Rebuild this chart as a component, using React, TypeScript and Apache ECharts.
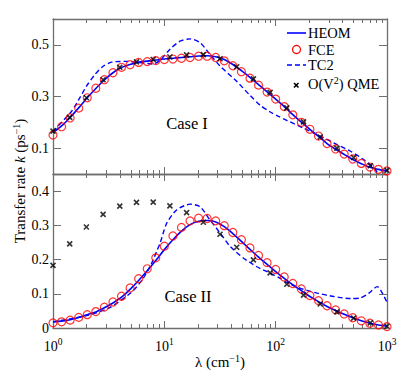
import React, { useEffect, useRef } from "react";
import * as echarts from "echarts";

// ---- data ----
const fceLambda = [
  1, 1.194, 1.425, 1.701, 2.031, 2.424, 2.894, 3.455, 4.125, 4.924, 5.878, 7.017, 8.377,
  10, 11.94, 14.25, 17.01, 20.31, 24.24, 28.94, 34.55, 41.25, 49.24, 58.78, 70.17, 83.77,
  100, 119.4, 142.5, 170.1, 203.1, 242.4, 289.4, 345.5, 412.5, 492.4, 587.8, 701.7, 837.7, 1000,
];
const fceTop = [
  0.151, 0.183, 0.217, 0.255, 0.295, 0.332, 0.365, 0.392, 0.413, 0.423, 0.432, 0.435, 0.439,
  0.443, 0.445, 0.448, 0.451, 0.456, 0.456, 0.451, 0.438, 0.419, 0.396, 0.371, 0.344, 0.317,
  0.29, 0.261, 0.229, 0.2, 0.173, 0.147, 0.118, 0.097, 0.077, 0.058, 0.041, 0.027, 0.018, 0.012,
];
const heomTop = [
  0.16, 0.186, 0.219, 0.256, 0.295, 0.331, 0.364, 0.392, 0.412, 0.424, 0.433, 0.437, 0.441,
  0.445, 0.448, 0.451, 0.454, 0.457, 0.458, 0.454, 0.443, 0.424, 0.4, 0.374, 0.346, 0.318,
  0.29, 0.261, 0.23, 0.201, 0.173, 0.146, 0.118, 0.096, 0.076, 0.056, 0.04, 0.026, 0.018, 0.012,
];
const fceBottom = [
  0.015, 0.018, 0.023, 0.031, 0.039, 0.048, 0.061, 0.076, 0.093, 0.117, 0.144, 0.173, 0.205,
  0.239, 0.269, 0.294, 0.313, 0.321, 0.32, 0.313, 0.299, 0.279, 0.258, 0.234, 0.212, 0.191,
  0.171, 0.149, 0.13, 0.114, 0.095, 0.08, 0.065, 0.053, 0.041, 0.03, 0.021, 0.014, 0.009, 0.004,
];
const heomBottom = [
  0.018, 0.02, 0.024, 0.031, 0.039, 0.047, 0.059, 0.073, 0.09, 0.113, 0.139, 0.167, 0.197,
  0.229, 0.258, 0.283, 0.302, 0.312, 0.314, 0.31, 0.296, 0.276, 0.253, 0.23, 0.207, 0.186,
  0.165, 0.145, 0.126, 0.109, 0.092, 0.077, 0.063, 0.051, 0.04, 0.03, 0.021, 0.014, 0.009, 0.005,
];
const qmeLambda = [
  1, 1.413, 1.995, 2.818, 3.981, 5.623, 7.943, 11.22, 15.85, 22.39, 31.62, 44.67, 63.1, 89.13,
  125.9, 177.8, 251.2, 354.8, 501.2, 707.9, 1000,
];
const qmeTop = [
  0.166, 0.219, 0.295, 0.365, 0.413, 0.434, 0.443, 0.453, 0.461, 0.462, 0.446, 0.415, 0.368,
  0.316, 0.256, 0.202, 0.143, 0.1, 0.064, 0.032, 0.014,
];
const qmeBottom = [
  0.183, 0.246, 0.295, 0.332, 0.356, 0.367, 0.368, 0.357, 0.337, 0.309, 0.274, 0.236, 0.199,
  0.161, 0.128, 0.096, 0.07, 0.047, 0.029, 0.015, 0.005,
];
const tc2TopLambda = [
  1, 1.47, 1.74, 2.0, 2.38, 2.82, 3.36, 4.58, 6.04, 7.91, 9.14, 11.2, 13.8, 17.1, 21.0, 25.8,
  31.8, 44.9, 59.2, 72.8, 89.5, 106, 127, 179, 253, 357, 471, 621, 764, 824,
];
const tc2TopRate = [
  0.165, 0.243, 0.295, 0.34, 0.385, 0.417, 0.433, 0.436, 0.431, 0.426, 0.44, 0.482, 0.514,
  0.523, 0.508, 0.462, 0.417, 0.358, 0.303, 0.266, 0.24, 0.223, 0.207, 0.177, 0.146, 0.114,
  0.088, 0.055, 0.023, 0.004,
];
const tc2BottomLambda = [
  1, 2.0, 3.16, 5.01, 6.31, 7.59, 8.51, 9.14, 10.5, 12.9, 17.1, 21.0, 25.8, 31.8, 39.1, 51.5,
  67.9, 89.5, 106, 127, 167, 236, 333, 471, 579, 689, 818, 908, 1000,
];
const tc2BottomRate = [
  0.018, 0.036, 0.058, 0.103, 0.14, 0.185, 0.223, 0.247, 0.306, 0.345, 0.362, 0.354, 0.315,
  0.277, 0.238, 0.204, 0.179, 0.16, 0.148, 0.133, 0.116, 0.102, 0.092, 0.086, 0.088, 0.102,
  0.121, 0.102, 0.075,
];
const xMajorTicks = [1, 10, 100, 1000];
const xMinorTicks = [2, 3, 4, 5, 6, 7, 8, 9, 20, 30, 40, 50, 60, 70, 80, 90, 200, 300, 400, 500, 600, 700, 800, 900];
const yTopTicks = [0.1, 0.3, 0.5];
const yBottomTicks = [0, 0.1, 0.2, 0.3, 0.4];

// ---- styling ----
const FONT = "Liberation Serif";
const AXIS_COLOR = "#6e6e6e";
const BLUE = "#0000ff";
const RED = "#ff0000";
const XMARK = "path://M0,0L10,10M10,0L0,10";

const pairs = (xs: number[], ys: number[]) => xs.map((x, i) => [x, ys[i]]);

function xAxisDef(grid: number, position: string, ticks: number[], len: number, showLine: boolean, showLabel: boolean) {
  return {
    type: "log",
    logBase: 10,
    min: 1,
    max: 1000,
    gridIndex: grid,
    position,
    axisLine: { show: showLine, lineStyle: { color: AXIS_COLOR, width: 1.3 } },
    axisTick: { show: true, inside: true, length: len, customValues: ticks, lineStyle: { color: AXIS_COLOR, width: 1 } },
    axisLabel: showLabel
      ? {
          show: true,
          margin: 9,
          customValues: xMajorTicks,
          formatter: (v: number) => `{b|10}{s|${Math.round(Math.log10(v))}}`,
          rich: {
            b: { fontFamily: FONT, fontSize: 14, color: "#000" },
            s: { fontFamily: FONT, fontSize: 9.5, color: "#000", padding: [0, 0, 8, 0] },
          },
        }
      : { show: false },
    splitLine: { show: false },
    minorTick: { show: false },
  };
}

function yAxisDef(grid: number, position: string, min: number, max: number, ticks: number[], showLabel: boolean) {
  return {
    type: "value",
    min,
    max,
    gridIndex: grid,
    position,
    axisLine: { show: true, lineStyle: { color: AXIS_COLOR, width: 1.3 } },
    axisTick: { show: true, inside: true, length: 8, customValues: ticks, lineStyle: { color: AXIS_COLOR, width: 1 } },
    axisLabel: showLabel
      ? {
          show: true,
          margin: 4,
          customValues: ticks,
          fontFamily: FONT,
          fontSize: 14,
          color: "#000",
          formatter: (v: number) => (v === 0 ? "0" : v.toFixed(1)),
        }
      : { show: false },
    splitLine: { show: false },
  };
}

function panelSeries(xi: number, yi: number, heom: number[], tc2x: number[], tc2y: number[], fce: number[], qme: number[]) {
  return [
    {
      type: "line",
      xAxisIndex: xi,
      yAxisIndex: yi,
      data: pairs(fceLambda, heom),
      symbol: "none",
      smooth: 0.3,
      lineStyle: { color: BLUE, width: 1.6 },
      z: 2,
    },
    {
      type: "line",
      xAxisIndex: xi,
      yAxisIndex: yi,
      data: pairs(tc2x, tc2y),
      symbol: "none",
      smooth: 0.25,
      lineStyle: { color: BLUE, width: 1.4, type: [5, 3] },
      z: 2,
    },
    {
      type: "scatter",
      xAxisIndex: xi,
      yAxisIndex: yi,
      data: pairs(fceLambda, fce),
      symbol: "circle",
      symbolSize: 8,
      itemStyle: { color: "rgba(0,0,0,0)", borderColor: RED, borderWidth: 1.2 },
      z: 3,
    },
    {
      type: "scatter",
      xAxisIndex: xi,
      yAxisIndex: yi,
      data: pairs(qmeLambda, qme),
      symbol: XMARK,
      symbolSize: 5,
      itemStyle: { color: "#000", borderColor: "#000", borderWidth: 1.6 },
      z: 4,
    },
  ];
}

const legendTextStyle = { fontFamily: FONT, fontSize: 14.5, fill: "#000", textVerticalAlign: "middle" };

export default function App() {
  const ref = useRef<HTMLDivElement>(null);
  useEffect(() => {
    const chart = echarts.init(ref.current!, null, { renderer: "svg" });
    chart.setOption({
      animation: false,
      backgroundColor: "#fff",
      grid: [
        { left: 53, top: 19, width: 334, height: 155 },
        { left: 53, top: 174, width: 334, height: 154 },
      ],
      xAxis: [
        xAxisDef(0, "bottom", xMajorTicks, 7, true, false),
        xAxisDef(0, "bottom", xMinorTicks, 4, false, false),
        xAxisDef(0, "top", xMajorTicks, 7, true, false),
        xAxisDef(0, "top", xMinorTicks, 4, false, false),
        xAxisDef(1, "bottom", xMajorTicks, 7, true, true),
        xAxisDef(1, "bottom", xMinorTicks, 4, false, false),
        xAxisDef(1, "top", xMajorTicks, 7, true, false),
        xAxisDef(1, "top", xMinorTicks, 4, false, false),
      ],
      yAxis: [
        yAxisDef(0, "left", 0, 0.6, yTopTicks, true),
        yAxisDef(0, "right", 0, 0.6, yTopTicks, false),
        yAxisDef(1, "left", 0, 0.45, yBottomTicks, true),
        yAxisDef(1, "right", 0, 0.45, yBottomTicks, false),
      ],
      series: [
        ...panelSeries(0, 0, heomTop, tc2TopLambda, tc2TopRate, fceTop, qmeTop),
        ...panelSeries(4, 2, heomBottom, tc2BottomLambda, tc2BottomRate, fceBottom, qmeBottom),
      ],
      graphic: [
        // legend
        { type: "line", shape: { x1: 287, y1: 33, x2: 306, y2: 33 }, style: { stroke: BLUE, lineWidth: 1.6 }, z: 10 },
        { type: "text", x: 308, y: 33, style: { ...legendTextStyle, text: "HEOM" }, z: 10 },
        { type: "circle", shape: { cx: 296.5, cy: 49.5, r: 4 }, style: { fill: "none", stroke: RED, lineWidth: 1.2 }, z: 10 },
        { type: "text", x: 308, y: 49.5, style: { ...legendTextStyle, text: "FCE" }, z: 10 },
        { type: "line", shape: { x1: 287, y1: 65, x2: 306, y2: 65 }, style: { stroke: BLUE, lineWidth: 1.4, lineDash: [5, 3] }, z: 10 },
        { type: "text", x: 308, y: 65, style: { ...legendTextStyle, text: "TC2" }, z: 10 },
        { type: "line", shape: { x1: 294, y1: 83, x2: 298.5, y2: 87.5 }, style: { stroke: "#000", lineWidth: 1.6 }, z: 10 },
        { type: "line", shape: { x1: 298.5, y1: 83, x2: 294, y2: 87.5 }, style: { stroke: "#000", lineWidth: 1.6 }, z: 10 },
        {
          type: "text",
          x: 308,
          y: 84,
          style: {
            text: "{n|O(V}{s|2}{n|) QME}",
            textVerticalAlign: "middle",
            rich: {
              n: { fontFamily: FONT, fontSize: 14.5, fill: "#000", color: "#000" },
              s: { fontFamily: FONT, fontSize: 10, fill: "#000", color: "#000", padding: [0, 0, 8, 0] },
            },
          },
          z: 10,
        },
        // case labels
        { type: "text", x: 187, y: 123, style: { text: "Case I", fontFamily: FONT, fontSize: 16.5, fill: "#000", textAlign: "center", textVerticalAlign: "middle" }, z: 10 },
        { type: "text", x: 188, y: 296, style: { text: "Case II", fontFamily: FONT, fontSize: 16.5, fill: "#000", textAlign: "center", textVerticalAlign: "middle" }, z: 10 },
        // axis titles
        {
          type: "text",
          x: 220,
          y: 362,
          style: {
            text: "{n|λ (cm}{s|−1}{n|)}",
            textAlign: "center",
            textVerticalAlign: "middle",
            rich: {
              n: { fontFamily: FONT, fontSize: 15, fill: "#000", color: "#000" },
              s: { fontFamily: FONT, fontSize: 10, fill: "#000", color: "#000", padding: [0, 0, 8, 0] },
            },
          },
          z: 10,
        },
        {
          type: "text",
          x: 20,
          y: 181,
          rotation: Math.PI / 2,
          style: {
            text: "{n|Transfer rate }{i|k}{n| (ps}{s|−1}{n|)}",
            textAlign: "center",
            textVerticalAlign: "middle",
            rich: {
              n: { fontFamily: FONT, fontSize: 15, fill: "#000", color: "#000" },
              i: { fontFamily: FONT, fontSize: 15, fontStyle: "italic", fill: "#000", color: "#000" },
              s: { fontFamily: FONT, fontSize: 10, fill: "#000", color: "#000", padding: [0, 0, 8, 0] },
            },
          },
          z: 10,
        },
      ],
    });
    return () => chart.dispose();
  }, []);
  return <div ref={ref} style={{ position: "fixed", left: 0, top: 0, width: 415, height: 388 }} />;
}
